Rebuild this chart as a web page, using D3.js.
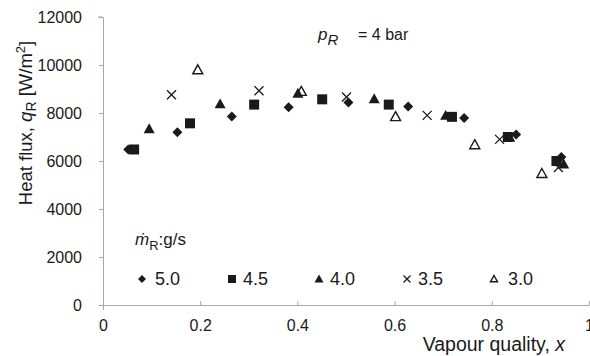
<!DOCTYPE html>
<html>
<head>
<meta charset="utf-8">
<script src="https://cdn.jsdelivr.net/npm/d3@7"></script>
<style>
  body { margin: 0; background: #fff; }
  text { font-family: "Liberation Sans", Arial, sans-serif; fill: #1a1a1a; }
</style>
</head>
<body>
<script>
var w = 590, h = 356;

// mass flow rates (g/s), one series each
var flows = ["5.0", "4.5", "4.0", "3.5", "3.0"];
var shapes = ["diamond", "square", "triangle", "cross", "opentri"];

var x50 = [0.052, 0.153, 0.265, 0.382, 0.505, 0.628, 0.743, 0.850, 0.943];
var q50 = [6480, 7200, 7850, 8240, 8440, 8270, 7790, 7100, 6170];
var x45 = [0.064, 0.179, 0.311, 0.451, 0.588, 0.718, 0.833, 0.933];
var q45 = [6480, 7570, 8350, 8570, 8350, 7840, 7000, 6000];
var x40 = [0.095, 0.241, 0.401, 0.558, 0.705, 0.837, 0.948];
var q40 = [7340, 8380, 8820, 8590, 7900, 6990, 5870];
var x35 = [0.141, 0.321, 0.501, 0.667, 0.816, 0.937];
var q35 = [8760, 8930, 8670, 7900, 6900, 5730];
var x30 = [0.195, 0.408, 0.602, 0.765, 0.903];
var q30 = [9800, 8900, 7850, 6680, 5480];

var xTicks = [0, 0.2, 0.4, 0.6, 0.8, 1];
var yTicks = [0, 2000, 4000, 6000, 8000, 10000, 12000];

var series = [
  {flow: flows[0], shape: shapes[0], xs: x50, qs: q50},
  {flow: flows[1], shape: shapes[1], xs: x45, qs: q45},
  {flow: flows[2], shape: shapes[2], xs: x40, qs: q40},
  {flow: flows[3], shape: shapes[3], xs: x35, qs: q35},
  {flow: flows[4], shape: shapes[4], xs: x30, qs: q30}
];

var svg = d3.select("body").append("svg")
  .attr("width", w)
  .attr("height", h);

var x = d3.scaleLinear().domain([0, 1]).range([103, 589]);
var y = d3.scaleLinear().domain([0, 12000]).range([305, 17]);

var axisColor = "#a8a8a8";

// y axis
var gy = svg.append("g")
  .attr("transform", "translate(" + x(0) + ",0)")
  .call(d3.axisLeft(y).tickValues(yTicks).tickFormat(d3.format("d")).tickSize(4).tickSizeOuter(0).tickPadding(17));
gy.select(".domain").attr("stroke", axisColor);
gy.selectAll(".tick line").attr("stroke", axisColor);
gy.selectAll(".tick text").style("font-size", "16px").attr("fill", "#1a1a1a");

// x axis, ticks point inward
var gx = svg.append("g")
  .attr("transform", "translate(0," + y(0) + ")")
  .call(d3.axisBottom(x).tickValues(xTicks).tickFormat(d3.format("")).tickSize(-4).tickSizeOuter(0).tickPadding(15));
gx.select(".domain").attr("stroke", axisColor);
gx.selectAll(".tick line").attr("stroke", axisColor);
gx.selectAll(".tick text").style("font-size", "16px").attr("fill", "#1a1a1a");
gx.select(".tick line").attr("y1", 5);
svg.append("line").attr("x1", x(0) - 5).attr("x2", x(0)).attr("y1", y(12000)).attr("y2", y(12000)).attr("stroke", axisColor);

function markerPath(shape, s) {
  var r = s / 2;
  if (shape == "diamond") return "M0," + (-r) + "L" + r + ",0L0," + r + "L" + (-r) + ",0Z";
  if (shape == "square") return "M" + (-r) + "," + (-r) + "H" + r + "V" + r + "H" + (-r) + "Z";
  if (shape == "triangle" || shape == "opentri") return "M0," + (-r) + "L" + r + "," + (r * 0.8) + "L" + (-r) + "," + (r * 0.8) + "Z";
  return "M" + (-r) + "," + (-r) + "L" + r + "," + r + "M" + r + "," + (-r) + "L" + (-r) + "," + r;
}

var markSize = {diamond: 10, square: 10, triangle: 11, cross: 9, opentri: 10};
var legSize = {diamond: 8, square: 8, triangle: 9, cross: 7, opentri: 7};

function drawMarker(g, shape, s) {
  var p = g.append("path").attr("d", markerPath(shape, s));
  if (shape == "cross") p.attr("fill", "none").attr("stroke", "#1a1a1a").attr("stroke-width", 1.3);
  else if (shape == "opentri") p.attr("fill", "#fff").attr("stroke", "#1a1a1a").attr("stroke-width", 1.4);
  else p.attr("fill", "#1a1a1a");
}

// draw in reverse so the 5.0 diamonds end on top
series.slice().reverse().forEach(function(s) {
  s.xs.forEach(function(v, i) {
    var g = svg.append("g").attr("transform", "translate(" + x(v) + "," + y(s.qs[i]) + ")");
    drawMarker(g, s.shape, markSize[s.shape]);
  });
});

// legend
var legX = [142, 232, 319, 407, 494];
var legGap = [13, 11, 11, 11, 14];
series.forEach(function(s, i) {
  var g = svg.append("g").attr("transform", "translate(" + legX[i] + ",279)");
  drawMarker(g, s.shape, legSize[s.shape]);
  g.append("text").attr("x", legGap[i]).attr("y", 6).style("font-size", "18px").text(s.flow);
});

var lh = svg.append("text").attr("x", 135).attr("y", 245).style("font-size", "17px");
lh.append("tspan").style("font-style", "italic").text("ṁ");
lh.append("tspan").attr("dy", 5).style("font-size", "13px").text("R");
lh.append("tspan").attr("dy", -5).text(":g/s");

// pressure label
var pl = svg.append("text").attr("y", 40).style("font-size", "16px");
pl.append("tspan").attr("x", 318).style("font-style", "italic").style("font-size", "17px").text("p");
pl.append("tspan").attr("dy", 5).style("font-style", "italic").style("font-size", "15px").text("R");
pl.append("tspan").attr("x", 358).attr("dy", -5).text("= 4 bar");

// axis titles
var xt = svg.append("text").attr("x", 565).attr("y", 351).attr("text-anchor", "end").style("font-size", "19.5px");
xt.append("tspan").text("Vapour quality, ");
xt.append("tspan").style("font-style", "italic").text("x");

var yt = svg.append("text").attr("transform", "translate(32,123) rotate(-90)").attr("text-anchor", "middle").style("font-size", "18.5px");
yt.append("tspan").text("Heat flux, ");
yt.append("tspan").style("font-style", "italic").text("q");
yt.append("tspan").attr("dy", 4).style("font-size", "14px").text("R");
yt.append("tspan").attr("dy", -4).text(" [W/m");
yt.append("tspan").attr("dy", -7).style("font-size", "13px").text("2");
yt.append("tspan").attr("dy", 7).text("]");
</script>
</body>
</html>
